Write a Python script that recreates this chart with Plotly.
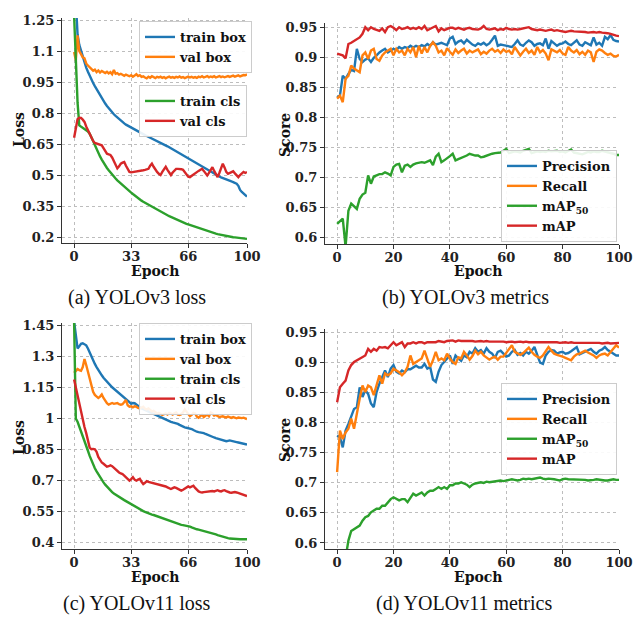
import plotly.graph_objects as go

epochs = list(range(101))

# ---------- (a) YOLOv3 loss ----------
a_train_box = [
1.50,1.30,1.18,1.13,1.10,1.07,1.045,1.02,1.00,0.98,
0.962,0.945,0.93,0.915,0.90,0.885,0.872,0.858,0.846,0.834,
0.823,0.812,0.803,0.794,0.786,0.778,0.77,0.763,0.756,0.750,
0.744,0.739,0.734,0.729,0.724,0.719,0.715,0.710,0.706,0.701,
0.697,0.693,0.689,0.685,0.681,0.677,0.674,0.670,0.666,0.662,
0.657,0.653,0.648,0.644,0.639,0.634,0.629,0.624,0.619,0.614,
0.609,0.604,0.599,0.594,0.589,0.585,0.580,0.575,0.570,0.565,
0.560,0.555,0.550,0.545,0.540,0.535,0.530,0.525,0.520,0.515,
0.510,0.505,0.501,0.497,0.493,0.489,0.485,0.481,0.478,0.475,
0.472,0.469,0.466,0.462,0.458,0.448,0.428,0.418,0.41,0.403,0.396]
a_val_box = [
1.095,1.055,1.176,1.10,1.085,1.07,1.065,1.04,1.03,1.02,
1.012,1.005,1.01,0.998,1.006,0.996,1.004,0.999,0.994,1.0,
0.992,0.998,0.988,1.008,0.99,0.993,0.986,0.99,0.984,0.98,
0.986,0.982,0.978,0.983,0.976,0.981,0.988,0.979,0.983,0.975,
0.978,0.972,0.968,0.976,0.971,0.978,0.973,0.969,0.975,0.972,
0.976,0.97,0.974,0.968,0.973,0.976,0.971,0.974,0.97,0.975,
0.972,0.977,0.971,0.974,0.969,0.973,0.976,0.972,0.975,0.971,
0.974,0.97,0.976,0.973,0.978,0.972,0.975,0.979,0.973,0.977,
0.974,0.978,0.972,0.976,0.979,0.974,0.977,0.973,0.976,0.979,
0.975,0.978,0.981,0.976,0.979,0.982,0.977,0.981,0.984,0.983,0.987]
a_train_cls = [
1.27,1.03,0.85,0.74,0.735,0.728,0.722,0.716,0.711,0.700,
0.685,0.665,0.645,0.625,0.607,0.59,0.575,0.56,0.546,0.534,
0.523,0.512,0.502,0.492,0.483,0.474,0.466,0.458,0.45,0.443,
0.436,0.429,0.422,0.415,0.408,0.401,0.394,0.387,0.381,0.376,
0.371,0.366,0.361,0.356,0.351,0.346,0.341,0.336,0.331,0.326,
0.321,0.317,0.313,0.309,0.305,0.301,0.297,0.293,0.289,0.285,
0.281,0.277,0.273,0.27,0.267,0.264,0.261,0.258,0.255,0.252,
0.249,0.246,0.243,0.24,0.237,0.234,0.231,0.228,0.225,0.222,
0.22,0.218,0.216,0.214,0.212,0.21,0.208,0.206,0.204,0.203,
0.201,0.2,0.199,0.198,0.197,0.196,0.195,0.194,0.193,0.192,0.191]
a_val_cls = [
0.68,0.724,0.77,0.777,0.776,0.768,0.757,0.735,0.716,0.70,
0.684,0.665,0.655,0.652,0.65,0.646,0.644,0.63,0.615,0.603,
0.60,0.597,0.585,0.568,0.55,0.532,0.542,0.555,0.56,0.563,
0.545,0.528,0.515,0.513,0.514,0.515,0.516,0.518,0.52,0.522,
0.523,0.525,0.527,0.53,0.545,0.555,0.54,0.525,0.515,0.506,
0.50,0.515,0.53,0.54,0.525,0.51,0.50,0.512,0.524,0.53,
0.53,0.53,0.528,0.525,0.512,0.50,0.492,0.49,0.495,0.50,
0.506,0.514,0.52,0.527,0.53,0.52,0.508,0.498,0.51,0.525,
0.538,0.52,0.503,0.49,0.51,0.535,0.555,0.537,0.515,0.506,
0.51,0.515,0.518,0.508,0.497,0.49,0.50,0.51,0.515,0.51,0.515]

# ---------- (b) YOLOv3 metrics ----------
b_precision = [
0.834,0.837,0.87,0.865,0.873,0.88,0.878,0.915,0.898,0.893,
0.897,0.899,0.893,0.90,0.904,0.909,0.912,0.915,0.909,0.912,
0.915,0.913,0.918,0.915,0.918,0.916,0.92,0.917,0.92,0.918,
0.921,0.919,0.923,0.92,0.926,0.922,0.923,0.925,0.923,0.921,
0.932,0.935,0.923,0.927,0.929,0.924,0.93,0.926,0.922,0.92,
0.924,0.922,0.925,0.921,0.924,0.93,0.937,0.92,0.922,0.921,
0.92,0.919,0.918,0.923,0.929,0.922,0.92,0.925,0.929,0.926,
0.92,0.923,0.924,0.921,0.932,0.915,0.928,0.924,0.92,0.923,
0.924,0.927,0.923,0.921,0.925,0.929,0.922,0.92,0.926,0.924,
0.921,0.934,0.922,0.925,0.92,0.935,0.931,0.938,0.93,0.928,0.927]
b_recall = [
0.832,0.837,0.826,0.865,0.87,0.887,0.882,0.879,0.876,0.904,
0.909,0.898,0.912,0.915,0.898,0.895,0.904,0.909,0.912,0.915,
0.904,0.915,0.909,0.912,0.904,0.915,0.909,0.918,0.901,0.92,
0.907,0.918,0.909,0.92,0.926,0.92,0.909,0.912,0.904,0.916,
0.91,0.905,0.914,0.908,0.912,0.915,0.907,0.912,0.909,0.912,
0.914,0.906,0.91,0.907,0.912,0.915,0.91,0.913,0.908,0.914,
0.91,0.912,0.906,0.918,0.911,0.904,0.91,0.915,0.908,0.912,
0.905,0.918,0.909,0.913,0.907,0.896,0.914,0.911,0.909,0.913,
0.907,0.905,0.918,0.912,0.909,0.913,0.906,0.91,0.905,0.912,
0.909,0.893,0.91,0.914,0.912,0.908,0.905,0.907,0.903,0.902,0.905]
b_map50 = [
0.623,0.628,0.632,0.585,0.645,0.657,0.652,0.648,0.665,0.672,
0.675,0.704,0.69,0.702,0.704,0.706,0.706,0.709,0.707,0.704,
0.718,0.722,0.723,0.709,0.72,0.722,0.718,0.722,0.724,0.725,
0.726,0.725,0.727,0.729,0.721,0.735,0.74,0.726,0.729,0.732,
0.736,0.74,0.729,0.731,0.733,0.734,0.737,0.74,0.738,0.737,
0.737,0.734,0.735,0.737,0.739,0.74,0.741,0.742,0.742,0.745,
0.748,0.741,0.742,0.744,0.743,0.742,0.745,0.746,0.748,0.741,
0.742,0.744,0.743,0.744,0.743,0.745,0.744,0.744,0.745,0.743,
0.744,0.742,0.744,0.747,0.742,0.741,0.74,0.739,0.741,0.743,
0.742,0.744,0.743,0.743,0.745,0.744,0.742,0.741,0.74,0.738,0.738]
b_map = [
0.907,0.906,0.904,0.899,0.923,0.925,0.928,0.931,0.934,0.94,
0.951,0.946,0.951,0.948,0.946,0.945,0.949,0.943,0.951,0.953,
0.95,0.946,0.951,0.948,0.949,0.951,0.948,0.95,0.948,0.951,
0.948,0.953,0.946,0.948,0.95,0.953,0.944,0.949,0.946,0.948,
0.95,0.95,0.948,0.95,0.948,0.947,0.949,0.95,0.948,0.948,
0.947,0.949,0.953,0.948,0.947,0.948,0.949,0.946,0.948,0.947,
0.95,0.948,0.947,0.948,0.947,0.948,0.949,0.95,0.951,0.948,
0.947,0.946,0.947,0.946,0.945,0.946,0.947,0.945,0.946,0.945,
0.944,0.943,0.944,0.945,0.944,0.944,0.943,0.944,0.943,0.942,
0.943,0.943,0.942,0.943,0.942,0.942,0.941,0.94,0.938,0.937,0.936]

# ---------- (c) YOLOv11 loss ----------
c_train_box = [
1.47,1.40,1.34,1.35,1.362,1.365,1.36,1.355,1.34,1.32,
1.30,1.28,1.265,1.25,1.235,1.222,1.21,1.198,1.188,1.178,
1.168,1.16,1.152,1.145,1.138,1.131,1.124,1.117,1.11,1.104,
1.098,1.09,1.08,1.072,1.076,1.075,1.068,1.06,1.055,1.05,
1.046,1.042,1.038,1.034,1.03,1.026,1.022,1.018,1.014,1.01,
1.006,1.002,0.998,0.995,0.992,0.988,0.985,0.982,0.98,0.978,
0.975,0.97,0.965,0.96,0.958,0.956,0.955,0.953,0.95,0.945,
0.94,0.937,0.935,0.934,0.932,0.93,0.926,0.922,0.918,0.915,
0.912,0.909,0.906,0.903,0.90,0.897,0.895,0.893,0.891,0.893,
0.895,0.893,0.89,0.888,0.887,0.885,0.883,0.881,0.879,0.877,0.875]
c_val_box = [
1.222,1.23,1.24,1.235,1.232,1.25,1.289,1.26,1.224,1.19,
1.158,1.13,1.115,1.105,1.10,1.107,1.117,1.10,1.085,1.075,
1.068,1.072,1.076,1.072,1.074,1.076,1.07,1.068,1.07,1.08,
1.09,1.065,1.058,1.06,1.055,1.06,1.058,1.052,1.05,1.054,
1.058,1.048,1.045,1.05,1.04,1.035,1.038,1.03,1.025,1.028,
1.022,1.018,1.022,1.025,1.02,1.028,1.025,1.02,1.026,1.03,
1.02,1.018,1.022,1.03,1.045,1.035,1.02,1.012,1.018,1.028,
1.025,1.01,1.005,1.012,1.02,1.008,1.015,1.02,1.012,1.03,
1.025,1.015,1.018,1.012,1.008,1.01,1.012,1.008,1.006,1.01,
1.006,1.004,1.008,1.005,1.002,1.006,1.004,1.003,1.005,1.0,0.998]
c_train_cls = [
1.47,1.0,0.985,0.962,0.94,0.92,0.90,0.87,0.845,0.82,
0.797,0.777,0.76,0.745,0.73,0.716,0.703,0.692,0.681,0.671,
0.662,0.653,0.645,0.638,0.632,0.626,0.621,0.616,0.611,0.606,
0.601,0.596,0.59,0.584,0.579,0.574,0.57,0.566,0.562,0.557,
0.553,0.549,0.545,0.541,0.538,0.536,0.534,0.531,0.528,0.524,
0.52,0.517,0.514,0.512,0.51,0.507,0.503,0.499,0.496,0.493,
0.49,0.488,0.486,0.485,0.484,0.483,0.481,0.478,0.474,0.47,
0.467,0.465,0.463,0.461,0.459,0.457,0.455,0.452,0.449,0.446,
0.444,0.442,0.44,0.437,0.434,0.431,0.428,0.426,0.424,0.422,
0.42,0.419,0.418,0.417,0.417,0.417,0.417,0.417,0.417,0.417,0.417]
c_val_cls = [
1.19,1.15,1.11,1.07,1.03,0.995,0.96,0.93,0.895,0.86,
0.852,0.854,0.852,0.84,0.815,0.80,0.788,0.782,0.775,0.768,
0.77,0.774,0.77,0.762,0.752,0.744,0.74,0.735,0.732,0.725,
0.718,0.71,0.70,0.708,0.717,0.705,0.70,0.705,0.709,0.695,
0.684,0.69,0.698,0.694,0.692,0.69,0.688,0.686,0.684,0.682,
0.68,0.678,0.676,0.672,0.668,0.664,0.66,0.664,0.668,0.665,
0.66,0.656,0.652,0.656,0.662,0.668,0.672,0.668,0.672,0.676,
0.665,0.655,0.648,0.645,0.643,0.645,0.646,0.648,0.65,0.652,
0.65,0.648,0.652,0.654,0.65,0.648,0.652,0.654,0.65,0.645,
0.643,0.642,0.644,0.645,0.643,0.64,0.638,0.635,0.632,0.629,0.626]

# ---------- (d) YOLOv11 metrics ----------
d_precision = [
0.779,0.776,0.759,0.787,0.798,0.81,0.823,0.826,0.859,0.843,
0.854,0.848,0.832,0.826,0.851,0.865,0.876,0.887,0.876,0.89,
0.896,0.885,0.882,0.887,0.884,0.889,0.889,0.892,0.895,0.892,
0.892,0.898,0.89,0.893,0.872,0.868,0.885,0.896,0.901,0.907,
0.912,0.898,0.912,0.907,0.903,0.912,0.909,0.918,0.915,0.924,
0.918,0.921,0.915,0.924,0.918,0.915,0.908,0.918,0.92,0.915,
0.91,0.912,0.918,0.921,0.913,0.916,0.912,0.918,0.915,0.92,
0.926,0.913,0.90,0.898,0.912,0.918,0.921,0.92,0.915,0.917,
0.918,0.915,0.916,0.919,0.922,0.926,0.914,0.916,0.918,0.92,
0.923,0.918,0.915,0.92,0.922,0.926,0.921,0.918,0.915,0.912,0.912]
d_recall = [
0.718,0.787,0.773,0.784,0.79,0.807,0.79,0.818,0.84,0.862,
0.851,0.862,0.859,0.846,0.865,0.879,0.865,0.882,0.879,0.882,
0.89,0.887,0.884,0.879,0.884,0.893,0.912,0.898,0.901,0.904,
0.907,0.92,0.907,0.893,0.904,0.918,0.904,0.907,0.904,0.915,
0.907,0.901,0.898,0.909,0.907,0.918,0.912,0.905,0.911,0.92,
0.914,0.918,0.912,0.908,0.905,0.908,0.91,0.905,0.91,0.91,
0.916,0.922,0.929,0.918,0.915,0.913,0.916,0.92,0.925,0.918,
0.913,0.91,0.908,0.912,0.918,0.926,0.92,0.915,0.913,0.912,
0.91,0.908,0.906,0.904,0.91,0.914,0.915,0.918,0.92,0.917,
0.915,0.912,0.908,0.912,0.914,0.915,0.912,0.918,0.922,0.929,0.925]
d_map50 = [
0.45,0.50,0.54,0.575,0.604,0.62,0.623,0.626,0.629,0.637,
0.643,0.645,0.651,0.654,0.657,0.657,0.662,0.662,0.668,0.673,
0.676,0.673,0.671,0.673,0.673,0.668,0.676,0.682,0.679,0.682,
0.684,0.679,0.684,0.687,0.687,0.69,0.693,0.69,0.693,0.69,
0.696,0.696,0.699,0.699,0.701,0.699,0.697,0.693,0.697,0.699,
0.70,0.701,0.70,0.702,0.701,0.702,0.703,0.704,0.704,0.703,
0.704,0.705,0.706,0.705,0.704,0.705,0.707,0.706,0.707,0.706,
0.707,0.708,0.709,0.707,0.706,0.707,0.707,0.706,0.705,0.704,
0.706,0.707,0.706,0.706,0.705,0.706,0.706,0.705,0.705,0.704,
0.704,0.705,0.706,0.705,0.705,0.704,0.704,0.705,0.706,0.705,0.705]
d_map = [
0.834,0.859,0.865,0.87,0.887,0.896,0.901,0.904,0.907,0.909,
0.912,0.923,0.918,0.923,0.92,0.926,0.925,0.926,0.924,0.929,
0.934,0.929,0.932,0.934,0.926,0.932,0.932,0.934,0.932,0.934,
0.934,0.932,0.934,0.934,0.935,0.934,0.936,0.935,0.934,0.936,
0.936,0.937,0.935,0.937,0.936,0.936,0.937,0.936,0.936,0.935,
0.936,0.936,0.935,0.936,0.935,0.935,0.936,0.936,0.935,0.935,
0.934,0.935,0.935,0.934,0.935,0.935,0.934,0.935,0.934,0.934,
0.935,0.934,0.934,0.934,0.934,0.935,0.934,0.934,0.934,0.933,
0.934,0.934,0.933,0.934,0.933,0.933,0.934,0.933,0.933,0.933,
0.933,0.933,0.933,0.933,0.932,0.933,0.933,0.932,0.932,0.933,0.933]

loss_x_ticks = [0, 33, 66, 100]
metric_x_ticks = [0, 20, 40, 60, 80, 100]
a_y_ticks = [0.2, 0.35, 0.5, 0.65, 0.8, 0.95, 1.1, 1.25]
a_y_text = ["0.2", "0.35", "0.5", "0.65", "0.8", "0.95", "1.1", "1.25"]
c_y_ticks = [0.4, 0.55, 0.7, 0.85, 1.0, 1.15, 1.3, 1.45]
c_y_text = ["0.4", "0.55", "0.7", "0.85", "1", "1.15", "1.3", "1.45"]
m_y_ticks = [0.6, 0.65, 0.7, 0.75, 0.8, 0.85, 0.9, 0.95]
m_y_text = ["0.6", "0.65", "0.7", "0.75", "0.8", "0.85", "0.9", "0.95"]

loss_names = ["train box", "val box", "train cls", "val cls"]
metric_names = ["Precision", "Recall", "mAP<sub>50</sub>", "mAP"]
captions = ["(a) YOLOv3 loss", "(b) YOLOv3 metrics", "(c) YOLOv11 loss", "(d) YOLOv11 metrics"]

colors = ["#1f77b4", "#ff7f0e", "#2ca02c", "#d62728"]
W, H = 641, 621
SERIF = "DejaVu Serif"

def px(x):
    return x / W

def py(y):
    return (H - y) / H

fig = go.Figure()

panels = [
    ([a_train_box, a_val_box, a_train_cls, a_val_cls], loss_names, "x", "y",
     ["legend", "legend", "legend2", "legend2"]),
    ([b_precision, b_recall, b_map50, b_map], metric_names, "x2", "y2",
     ["legend3"] * 4),
    ([c_train_box, c_val_box, c_train_cls, c_val_cls], loss_names, "x3", "y3",
     ["legend4"] * 4),
    ([d_precision, d_recall, d_map50, d_map], metric_names, "x4", "y4",
     ["legend5"] * 4),
]
for series, names, xa, ya, legs in panels:
    for s, n, c, lg in zip(series, names, colors, legs):
        fig.add_trace(go.Scatter(x=epochs, y=s, name=n, mode="lines",
                                 line=dict(color=c, width=2.4),
                                 xaxis=xa, yaxis=ya, legend=lg))

tickfont = dict(family=SERIF, size=13, color="#222", weight="bold")

def axis_common():
    return dict(showline=True, linecolor="#333", linewidth=1.3, ticks="outside",
                ticklen=4, tickwidth=1.2, tickcolor="#333", showgrid=True,
                gridcolor="#bdbdbd", griddash="dot", gridwidth=1, zeroline=False,
                tickfont=tickfont, fixedrange=True, automargin=False)

def xax(dom, rng, ticks, anchor):
    d = axis_common()
    d.update(domain=dom, range=rng, tickvals=ticks, ticktext=[str(t) for t in ticks],
             anchor=anchor, ticklabelstandoff=-3)
    return d

def yax(dom, rng, ticks, text, anchor):
    d = axis_common()
    d.update(domain=dom, range=rng, tickvals=ticks, ticktext=text, anchor=anchor)
    return d

xl = [px(62), px(247)]
xr = [px(325), px(619)]
fig.update_layout(
    xaxis=xax(xl, [-7, 100], loss_x_ticks, "y"),
    yaxis=yax([py(243), py(18)], [0.171, 1.26], a_y_ticks, a_y_text, "x"),
    xaxis2=xax(xr, [-4.3, 100], metric_x_ticks, "y2"),
    yaxis2=yax([py(244), py(23)], [0.5895, 0.958], m_y_ticks, m_y_text, "x2"),
    xaxis3=xax(xl, [-7, 100], loss_x_ticks, "y3"),
    yaxis3=yax([py(549), py(323)], [0.3695, 1.463], c_y_ticks, c_y_text, "x3"),
    xaxis4=xax(xr, [-4.3, 100], metric_x_ticks, "y4"),
    yaxis4=yax([py(549), py(329)], [0.59, 0.956], m_y_ticks, m_y_text, "x4"),
)

legfont = dict(family=SERIF, size=13, color="#111", weight="bold")
legbase = dict(bgcolor="rgba(255,255,255,0.9)", bordercolor="#cccccc", borderwidth=1,
               font=legfont, itemwidth=30, xref="paper", yref="paper",
               traceorder="normal", tracegroupgap=0)
fig.update_layout(
    legend=dict(legbase, x=px(139), y=py(21), xanchor="left", yanchor="top"),
    legend2=dict(legbase, x=px(139), y=py(85), xanchor="left", yanchor="top"),
    legend3=dict(legbase, x=px(617), y=py(242), xanchor="right", yanchor="bottom"),
    legend4=dict(legbase, x=px(139), y=py(323), xanchor="left", yanchor="top"),
    legend5=dict(legbase, x=px(617), y=py(429), xanchor="right", yanchor="middle"),
)

ann = []
titlefont = dict(family=SERIF, size=14, color="#111", weight="bold")
for xc, yc in [(155, 271), (479, 271), (155, 577), (479, 577)]:
    ann.append(dict(text="Epoch", x=px(xc), y=py(yc), xref="paper", yref="paper",
                    showarrow=False, font=titlefont, xanchor="center", yanchor="middle"))
for txt, xc, yc in [("Loss", 19, 130), ("Score", 285, 135), ("Loss", 19, 438), ("Score", 285, 440)]:
    ann.append(dict(text=txt, x=px(xc), y=py(yc), xref="paper", yref="paper",
                    showarrow=False, font=titlefont, textangle=-90,
                    xanchor="center", yanchor="middle"))
capfont = dict(family="Liberation Serif", size=20, color="#111")
for txt, xc, yc in zip(captions, [137, 465, 137, 464], [297, 297, 603, 603]):
    ann.append(dict(text=txt, x=px(xc), y=py(yc), xref="paper", yref="paper",
                    showarrow=False, font=capfont, xanchor="center", yanchor="middle"))

fig.update_layout(
    annotations=ann,
    width=W, height=H,
    margin=dict(l=0, r=0, t=0, b=0),
    paper_bgcolor="white", plot_bgcolor="white",
    showlegend=True,
)

fig.write_html("out.html", config={"displayModeBar": False},
               post_script="document.body.style.margin='0';document.body.style.overflow='hidden';")
